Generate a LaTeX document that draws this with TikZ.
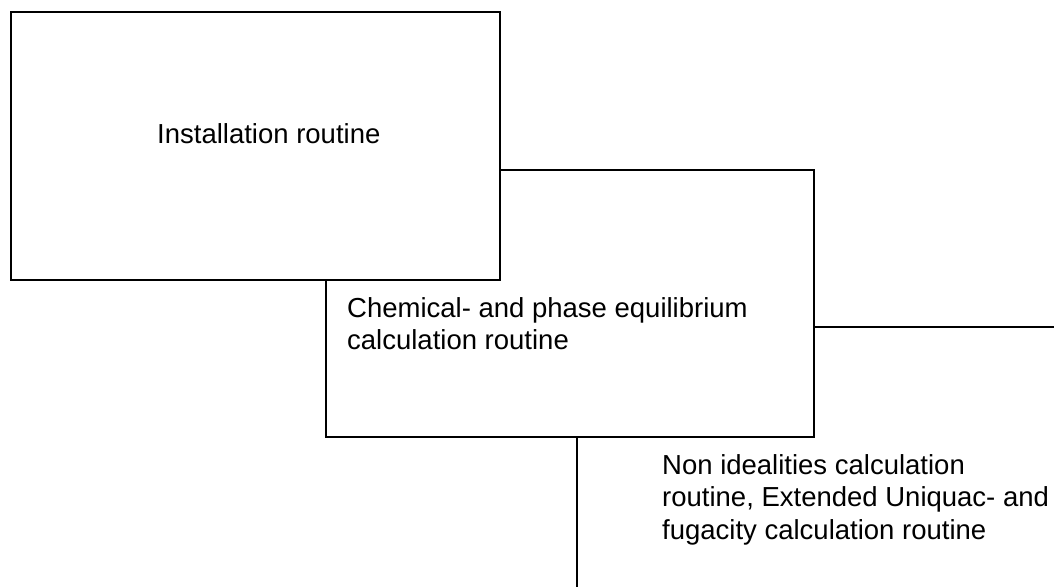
\documentclass[tikz,border=0pt]{standalone}
\usepackage{fontspec}
\setmainfont{Liberation Sans}
\begin{document}
\begin{tikzpicture}[x=1pt,y=-1pt,
  boxstyle/.style={draw=black,line width=1.5pt,fill=white,rectangle,inner sep=0pt},
  linestyle/.style={draw=black,line width=1.5pt},
  txt/.style={inner sep=0pt,align=left,font=\fontsize{27.5}{32.5}\selectfont}]
\useasboundingbox[fill=white] (0,0) rectangle (1054,587);
% lower box
\node[boxstyle,minimum width=488pt,minimum height=267pt,anchor=north west] (box2) at (325,169) {};
% upper box
\node[boxstyle,minimum width=489pt,minimum height=268pt,anchor=north west] (box1) at (10,11) {};
\coordinate (rend) at (1054,327);
\coordinate (bend) at (577,587);
\draw[linestyle] (box2.east |- rend) -- (rend);
\draw[linestyle] (bend |- box2.south) -- (bend);
\node[txt,anchor=base west] (t1) at (157,143) {Installation routine};
\node[txt,anchor=north west] (t2) at (347,297.3) {Chemical- and phase equilibrium\\calculation routine};
\node[txt,anchor=north west] (t3) at (662,454.3) {Non idealities calculation\\routine, Extended Uniquac- and\\fugacity calculation routine};
\end{tikzpicture}
\end{document}
